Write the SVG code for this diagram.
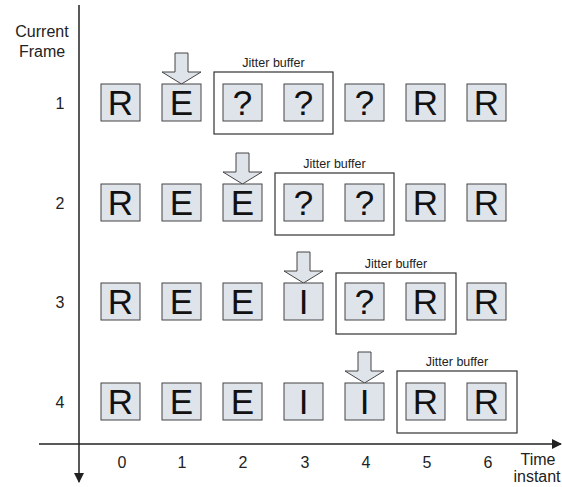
<svg xmlns="http://www.w3.org/2000/svg" width="562" height="487" viewBox="0 0 562 487">
<style>
.box{fill:#dfe3ea;stroke:#444;stroke-width:1}
.jb{fill:none;stroke:#333;stroke-width:1.2}
.arr{fill:#dfe3ea;stroke:#444;stroke-width:1}
.big{font-family:"Liberation Sans",Arial,sans-serif;font-size:35px;fill:#111;text-anchor:middle}
.lbl{font-family:"Liberation Sans",Arial,sans-serif;font-size:16px;fill:#222;text-anchor:middle}
.jt{font-family:"Liberation Sans",Arial,sans-serif;font-size:12.5px;fill:#222;text-anchor:middle}
.ax{stroke:#222;stroke-width:1.5;fill:none}
</style>
<defs>
<marker id="ah" markerWidth="10" markerHeight="10" refX="9" refY="5" orient="auto" markerUnits="userSpaceOnUse">
<path d="M0,0 L10,5 L0,10 Z" fill="#222"/>
</marker>
</defs>
<g id="axes" class="connectors">
<line class="ax" x1="79" y1="5" x2="79" y2="482" marker-end="url(#ah)"/>
<line class="ax" x1="39" y1="444" x2="561" y2="444" marker-end="url(#ah)"/>
</g>
<g id="labels">
<text class="lbl" x="42" y="37">Current</text>
<text class="lbl" x="42" y="57">Frame</text>
<text class="lbl" x="60" y="109" font-size="18">1</text>
<text class="lbl" x="60" y="209" font-size="18">2</text>
<text class="lbl" x="60" y="308" font-size="18">3</text>
<text class="lbl" x="60" y="408" font-size="18">4</text>
<text class="lbl" x="122" y="468">0</text>
<text class="lbl" x="182" y="468">1</text>
<text class="lbl" x="243" y="468">2</text>
<text class="lbl" x="305" y="468">3</text>
<text class="lbl" x="366" y="468">4</text>
<text class="lbl" x="427" y="468">5</text>
<text class="lbl" x="488" y="468">6</text>
<text class="lbl" x="538" y="465">Time</text>
<text class="lbl" x="537" y="482">instant</text>
</g>
<g id="row1">
<rect class="box" x="101" y="84" width="39" height="37"/><text class="big" x="120.5" y="115">R</text>
<path class="arr" d="M175,53 H188 V72 H201 L181.5,84 L162,72 H175 Z"/>
<rect class="box" x="162" y="84" width="39" height="37"/><text class="big" x="181.5" y="115">E</text>
<rect class="jb" x="214" y="72" width="119" height="62"/><text class="jt" x="273.5" y="67">Jitter buffer</text>
<rect class="box" x="223" y="84" width="39" height="37"/><text class="big" x="242.5" y="115">?</text>
<rect class="box" x="284" y="84" width="39" height="37"/><text class="big" x="303.5" y="115">?</text>
<rect class="box" x="345" y="84" width="39" height="37"/><text class="big" x="364.5" y="115">?</text>
<rect class="box" x="406" y="84" width="39" height="37"/><text class="big" x="425.5" y="115">R</text>
<rect class="box" x="467" y="84" width="39" height="37"/><text class="big" x="486.5" y="115">R</text>
</g>
<g id="row2">
<rect class="box" x="101" y="184" width="39" height="37"/><text class="big" x="120.5" y="215">R</text>
<rect class="box" x="162" y="184" width="39" height="37"/><text class="big" x="181.5" y="215">E</text>
<path class="arr" d="M236,153 H249 V172 H262 L242.5,184 L223,172 H236 Z"/>
<rect class="box" x="223" y="184" width="39" height="37"/><text class="big" x="242.5" y="215">E</text>
<rect class="jb" x="275" y="173" width="119" height="62"/><text class="jt" x="334.5" y="168">Jitter buffer</text>
<rect class="box" x="284" y="184" width="39" height="37"/><text class="big" x="303.5" y="215">?</text>
<rect class="box" x="345" y="184" width="39" height="37"/><text class="big" x="364.5" y="215">?</text>
<rect class="box" x="406" y="184" width="39" height="37"/><text class="big" x="425.5" y="215">R</text>
<rect class="box" x="467" y="184" width="39" height="37"/><text class="big" x="486.5" y="215">R</text>
</g>
<g id="row3">
<rect class="box" x="101" y="283" width="39" height="37"/><text class="big" x="120.5" y="314">R</text>
<rect class="box" x="162" y="283" width="39" height="37"/><text class="big" x="181.5" y="314">E</text>
<rect class="box" x="223" y="283" width="39" height="37"/><text class="big" x="242.5" y="314">E</text>
<path class="arr" d="M297,252 H310 V271 H323 L303.5,283 L284,271 H297 Z"/>
<rect class="box" x="284" y="283" width="39" height="37"/><text class="big" x="303.5" y="314">I</text>
<rect class="jb" x="336" y="273" width="120" height="61"/><text class="jt" x="396" y="268">Jitter buffer</text>
<rect class="box" x="345" y="283" width="39" height="37"/><text class="big" x="364.5" y="314">?</text>
<rect class="box" x="406" y="283" width="39" height="37"/><text class="big" x="425.5" y="314">R</text>
<rect class="box" x="467" y="283" width="39" height="37"/><text class="big" x="486.5" y="314">R</text>
</g>
<g id="row4">
<rect class="box" x="101" y="383" width="39" height="37"/><text class="big" x="120.5" y="414">R</text>
<rect class="box" x="162" y="383" width="39" height="37"/><text class="big" x="181.5" y="414">E</text>
<rect class="box" x="223" y="383" width="39" height="37"/><text class="big" x="242.5" y="414">E</text>
<rect class="box" x="284" y="383" width="39" height="37"/><text class="big" x="303.5" y="414">I</text>
<path class="arr" d="M358,352 H371 V371 H384 L364.5,383 L345,371 H358 Z"/>
<rect class="box" x="345" y="383" width="39" height="37"/><text class="big" x="364.5" y="414">I</text>
<rect class="jb" x="397" y="371" width="120" height="62"/><text class="jt" x="457" y="366">Jitter buffer</text>
<rect class="box" x="406" y="383" width="39" height="37"/><text class="big" x="425.5" y="414">R</text>
<rect class="box" x="467" y="383" width="39" height="37"/><text class="big" x="486.5" y="414">R</text>
</g>
</svg>
